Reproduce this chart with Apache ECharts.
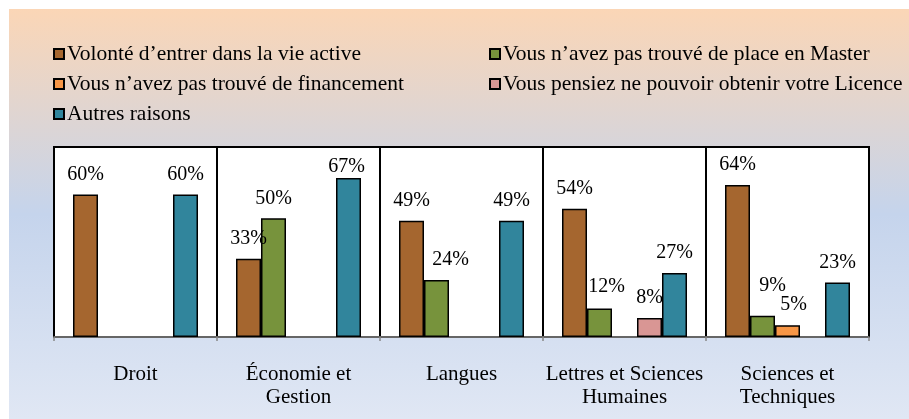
<!DOCTYPE html>
<html>
<head>
<meta charset="utf-8">
<script src="https://cdn.jsdelivr.net/npm/echarts@6/dist/echarts.min.js"></script>
<style>
  html, body { margin: 0; padding: 0; background: #fff; }
  #chart { width: 909px; height: 419px; }
</style>
</head>
<body>
<div id="chart"></div>
<script>
const categories = ["Droit", "Économie et\nGestion", "Langues", "Lettres et Sciences\nHumaines", "Sciences et\nTechniques"];
const seriesNames = [
    "Volonté d’entrer dans la vie active",
    "Vous n’avez pas trouvé de place en Master",
    "Vous n’avez pas trouvé de financement",
    "Vous pensiez ne pouvoir obtenir votre Licence",
    "Autres raisons"
];
const volonte = [60, 33, 49, 54, 64];
const master = [null, 50, 24, 12, 9];
const financement = [null, null, null, null, 5];
const licence = [null, null, null, 8, null];
const autres = [60, 67, 49, 27, 23];

const colors = ["#A5662F", "#77933C", "#F79646", "#D99694", "#31859C"];
const font = "'Liberation Serif', 'Times New Roman', serif";

// label nudges where the original labels sit off-centre
const labelOffsets = {
    "1-2": [14, 0],
    "1-3": [7, -2],
    "1-4": [10, -10],
    "2-4": [6, 0],
    "4-1": [-2, 9]
};

const chart = echarts.init(document.getElementById("chart"));

function makeSeries(values, idx) {
    return {
        name: seriesNames[idx],
        type: "bar",
        barWidth: 25,
        barGap: "0%",
        itemStyle: { color: colors[idx], borderColor: "#000", borderWidth: 1.5 },
        label: {
            show: true,
            position: "top",
            distance: 10,
            formatter: (p) => p.value + "%",
            fontFamily: font,
            fontSize: 20,
            lineHeight: 20,
            color: "#000"
        },
        data: values.map((v, i) => {
            const off = labelOffsets[idx + "-" + i];
            if (v == null) return null;
            return off ? { value: v, label: { offset: off } } : v;
        })
    };
}

const legendBase = {
    orient: "vertical",
    icon: "rect",
    padding: 0,
    itemWidth: 10,
    itemHeight: 10,
    itemGap: 8,
    itemStyle: { borderColor: "#000", borderWidth: 2 },
    textStyle: { fontFamily: font, fontSize: 21.5, lineHeight: 22, color: "#000", padding: [0, 0, 0, -2] }
};

chart.setOption({
    animation: false,
    graphic: [{
        type: "rect",
        z: -10,
        left: 9,
        top: 9,
        shape: { width: 900, height: 410 },
        style: {
            fill: new echarts.graphic.LinearGradient(0, 0, 0, 1, [
                { offset: 0, color: "#FBD6B6" },
                { offset: 0.5, color: "#C5D4EC" },
                { offset: 1, color: "#E0E7F4" }
            ])
        },
        silent: true
    }],
    legend: [
        Object.assign({}, legendBase, { left: 53, top: 43, data: [seriesNames[0], seriesNames[2], seriesNames[4]] }),
        Object.assign({}, legendBase, { left: 489, top: 43, data: [seriesNames[1], seriesNames[3]] })
    ],
    grid: {
        left: 54,
        top: 147,
        right: 40,
        bottom: 82,
        show: true,
        backgroundColor: "#fff",
        borderColor: "#000",
        borderWidth: 2
    },
    xAxis: {
        type: "category",
        data: categories,
        axisLine: { lineStyle: { color: "#888", width: 1.5 } },
        axisTick: { show: true, length: 4, lineStyle: { color: "#888", width: 1.5 } },
        splitLine: { show: true, lineStyle: { color: "#000", width: 2 } },
        axisLabel: {
            interval: 0,
            margin: 26,
            fontFamily: font,
            fontSize: 21,
            lineHeight: 23,
            color: "#000"
        }
    },
    yAxis: {
        type: "value",
        min: 0,
        max: 80,
        show: false,
        splitLine: { show: false }
    },
    series: [
        makeSeries(volonte, 0),
        makeSeries(master, 1),
        makeSeries(financement, 2),
        makeSeries(licence, 3),
        makeSeries(autres, 4)
    ]
});
</script>
</body>
</html>
